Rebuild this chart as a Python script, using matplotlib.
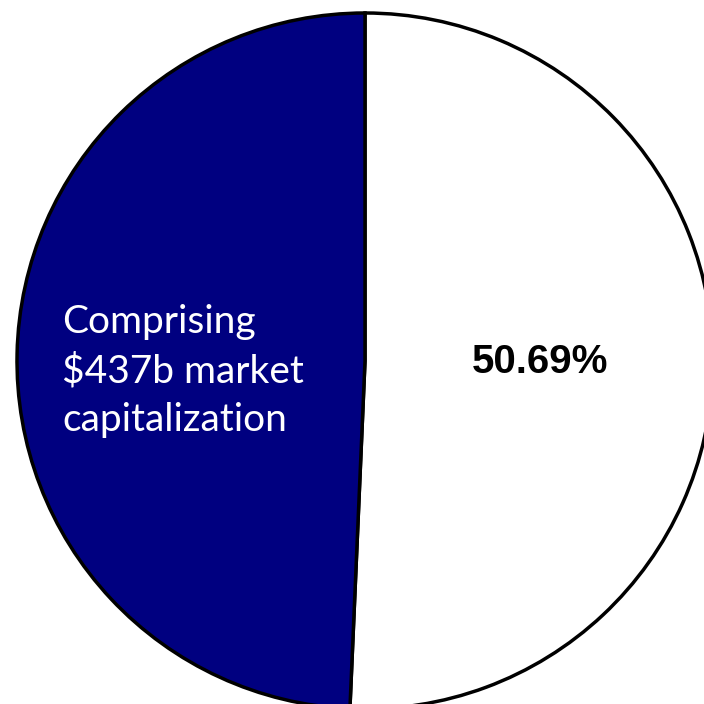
import matplotlib
matplotlib.use("Agg")
import matplotlib.pyplot as plt

# Data
categories = ["Other", "Comprising $437b market capitalization"]
shares = [50.69, 49.31]
colors = ["#FFFFFF", "#000080"]
pct_label = "50.69%"
inside_label = "Comprising\n$437b market\ncapitalization"

fig = plt.figure(figsize=(7.04, 7.04), dpi=100)
ax = fig.add_axes([0, 0, 1, 1])
ax.pie(shares, colors=colors, startangle=90, counterclock=False,
       radius=1.0, center=(0, 0),
       wedgeprops=dict(edgecolor="black", linewidth=2.5))

# pixel mapping: center at (365, 361), radius 348 px
cx, cy, r = 365.0, 361.0, 348.0
ax.set_xlim(-cx / r, (704 - cx) / r)
ax.set_ylim(-(704 - cy) / r, cy / r)
ax.set_aspect("auto")
ax.axis("off")

def px(x, y):
    return (x - cx) / r, (cy - y) / r

x1, y1 = px(540, 362)
ax.text(x1, y1, pct_label, ha="center", va="center", fontsize=29,
        fontweight="bold", family=["Liberation Sans", "DejaVu Sans"], color="black")

x2, y2 = px(62, 371)
ax.text(x2, y2, inside_label, ha="left", va="center", fontsize=28,
        family=["Lato", "DejaVu Sans"], color="white", linespacing=1.42)

fig.savefig("out.png", dpi=100)
